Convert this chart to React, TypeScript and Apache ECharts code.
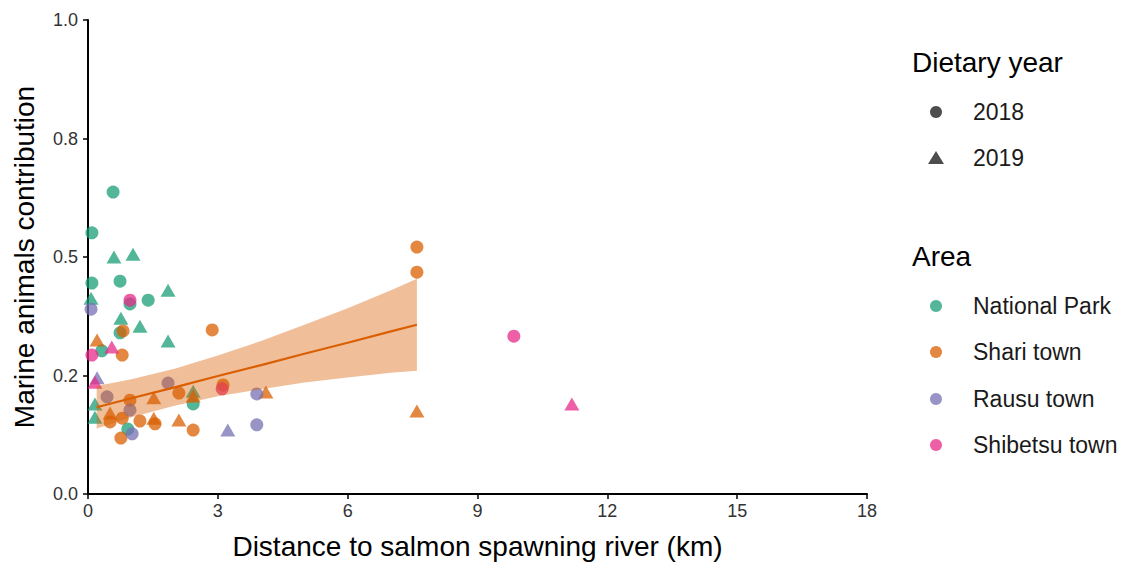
import React, { useEffect, useRef } from "react";
import * as echarts from "echarts";

// Points: [distance to river (km), marine contribution]
const nationalPark2018 = [
  [0.58, 0.637], [0.09, 0.551], [0.09, 0.445], [0.74, 0.449], [1.39, 0.409],
  [0.97, 0.401], [0.32, 0.302], [0.74, 0.34], [2.43, 0.19], [0.92, 0.137],
];
const nationalPark2019 = [
  [0.6, 0.5], [1.04, 0.506], [1.85, 0.43], [0.07, 0.413], [0.76, 0.371],
  [1.2, 0.354], [1.85, 0.323], [0.16, 0.19], [0.16, 0.162], [2.43, 0.217],
];
const shari2018 = [
  [7.6, 0.521], [7.6, 0.468], [2.87, 0.346], [0.79, 0.293], [0.81, 0.344],
  [0.97, 0.198], [2.1, 0.213], [0.51, 0.152], [0.79, 0.16], [1.2, 0.154],
  [1.55, 0.148], [0.76, 0.118], [2.43, 0.135], [3.12, 0.23],
];
const shari2019 = [
  [0.21, 0.325], [0.51, 0.171], [1.52, 0.203], [1.52, 0.16], [2.1, 0.156],
  [2.43, 0.207], [4.11, 0.215], [7.6, 0.175],
];
const rausu2018 = [
  [0.07, 0.39], [0.44, 0.205], [0.97, 0.177], [1.85, 0.234], [1.02, 0.127],
  [3.9, 0.211], [3.9, 0.146],
];
const rausu2019 = [[3.23, 0.135], [0.21, 0.245]];
const shibetsu2018 = [[0.97, 0.409], [0.09, 0.293], [3.1, 0.222], [9.84, 0.333]];
const shibetsu2019 = [[0.55, 0.31], [0.16, 0.236], [11.18, 0.19]];

// Linear fit for Shari town with its 95% confidence band
const fitX = [0.2, 1, 2, 3, 4, 5, 6, 7, 7.6];
const fitY = [0.183, 0.202, 0.225, 0.249, 0.272, 0.296, 0.319, 0.343, 0.357];
const fitUpper = [0.228, 0.242, 0.264, 0.292, 0.323, 0.357, 0.392, 0.43, 0.454];
const fitLower = [0.138, 0.162, 0.186, 0.206, 0.221, 0.235, 0.246, 0.256, 0.26];

const yTicks = [0, 0.25, 0.5, 0.75, 1];
const yTickLabels = ["0.0", "0.2", "0.5", "0.8", "1.0"];

const areas = ["National Park", "Shari town", "Rausu town", "Shibetsu town"];
const areaColors = ["#1B9E77", "#D95F02", "#7570B3", "#E7298A"];
const years = ["2018", "2019"];

const pointsByArea = [
  [nationalPark2018, nationalPark2019],
  [shari2018, shari2019],
  [rausu2018, rausu2019],
  [shibetsu2018, shibetsu2019],
];

const FONT = "'Liberation Sans', Arial, sans-serif";
const POINT_ALPHA = 0.75;

export default function App() {
  const ref = useRef<HTMLDivElement>(null);

  useEffect(() => {
    if (!ref.current) return;
    const chart = echarts.init(ref.current, undefined, { renderer: "svg" });

    const scatterSeries: any[] = [];
    pointsByArea.forEach((pair, ai) => {
      pair.forEach((pts, yi) => {
        scatterSeries.push({
          type: "scatter",
          name: `${areas[ai]} ${years[yi]}`,
          data: pts,
          symbol: yi === 0 ? "circle" : "triangle",
          symbolSize: yi === 0 ? 13 : [15, 13],
          itemStyle: { color: areaColors[ai], opacity: POINT_ALPHA },
          silent: true,
          z: 2,
        });
      });
    });

    const bandSeries = {
      type: "custom",
      coordinateSystem: "cartesian2d",
      data: [[fitX[0], fitY[0]]],
      silent: true,
      z: 3,
      clip: false,
      renderItem: (_params: any, api: any) => {
        const pts: number[][] = [];
        for (let i = 0; i < fitX.length; i++) pts.push(api.coord([fitX[i], fitUpper[i]]));
        for (let i = fitX.length - 1; i >= 0; i--) pts.push(api.coord([fitX[i], fitLower[i]]));
        return {
          type: "polygon",
          shape: { points: pts },
          style: { fill: "#D95F02", opacity: 0.4 },
        };
      },
    };

    const lineSeries = {
      type: "line",
      data: fitX.map((x, i) => [x, fitY[i]]),
      showSymbol: false,
      lineStyle: { color: "#D95F02", width: 2.2 },
      silent: true,
      z: 4,
    };

    const legendX = 936;
    const textX = 973;
    const legendGraphics: any[] = [
      {
        type: "text",
        x: 912,
        y: 62,
        style: { text: "Dietary year", font: `28px ${FONT}`, fill: "#000", verticalAlign: "middle" },
      },
      {
        type: "circle",
        shape: { cx: legendX, cy: 112, r: 6 },
        style: { fill: "#4D4D4D" },
      },
      {
        type: "text",
        x: textX,
        y: 112,
        style: { text: years[0], font: `23px ${FONT}`, fill: "#1a1a1a", verticalAlign: "middle" },
      },
      {
        type: "polygon",
        shape: { points: [[928, 164], [944, 164], [936, 151]] },
        style: { fill: "#4D4D4D" },
      },
      {
        type: "text",
        x: textX,
        y: 158,
        style: { text: years[1], font: `23px ${FONT}`, fill: "#1a1a1a", verticalAlign: "middle" },
      },
      {
        type: "text",
        x: 912,
        y: 256,
        style: { text: "Area", font: `28px ${FONT}`, fill: "#000", verticalAlign: "middle" },
      },
    ];
    const areaRows = [306, 352, 399, 445];
    areas.forEach((a, i) => {
      legendGraphics.push({
        type: "circle",
        shape: { cx: legendX, cy: areaRows[i], r: 6 },
        style: { fill: areaColors[i], opacity: POINT_ALPHA },
      });
      legendGraphics.push({
        type: "text",
        x: textX,
        y: areaRows[i],
        style: { text: a, font: `23px ${FONT}`, fill: "#1a1a1a", verticalAlign: "middle" },
      });
    });

    chart.setOption({
      animation: false,
      backgroundColor: "#fff",
      textStyle: { fontFamily: FONT },
      grid: { left: 88, right: 261, top: 20, bottom: 74, containLabel: false },
      xAxis: {
        type: "value",
        min: 0,
        max: 18,
        interval: 3,
        name: "Distance to salmon spawning river (km)",
        nameLocation: "middle",
        nameGap: 38,
        nameTextStyle: { fontSize: 28, color: "#000", fontFamily: FONT },
        axisLine: { show: true, onZero: false, lineStyle: { color: "#000", width: 2 } },
        axisTick: { show: true, length: 5, lineStyle: { color: "#000", width: 1.5 } },
        axisLabel: { fontSize: 18, color: "#333", margin: 8, fontFamily: FONT },
        splitLine: { show: false },
      },
      yAxis: {
        type: "value",
        min: 0,
        max: 1,
        interval: 0.25,
        name: "Marine animals contribution",
        nameLocation: "middle",
        nameGap: 50,
        nameTextStyle: { fontSize: 28, color: "#000", fontFamily: FONT },
        axisLine: { show: true, onZero: false, lineStyle: { color: "#000", width: 2 } },
        axisTick: { show: true, length: 5, lineStyle: { color: "#000", width: 1.5 } },
        axisLabel: {
          fontSize: 18,
          color: "#333",
          margin: 10,
          fontFamily: FONT,
          formatter: (v: number) => {
            const idx = yTicks.findIndex((t) => Math.abs(t - v) < 1e-9);
            return idx >= 0 ? yTickLabels[idx] : "";
          },
        },
        splitLine: { show: false },
      },
      series: [...scatterSeries, bandSeries, lineSeries],
      graphic: legendGraphics,
    });

    return () => chart.dispose();
  }, []);

  return (
    <div
      ref={ref}
      style={{ position: "absolute", left: 0, top: 0, width: 1128, height: 568, background: "#fff" }}
    />
  );
}
